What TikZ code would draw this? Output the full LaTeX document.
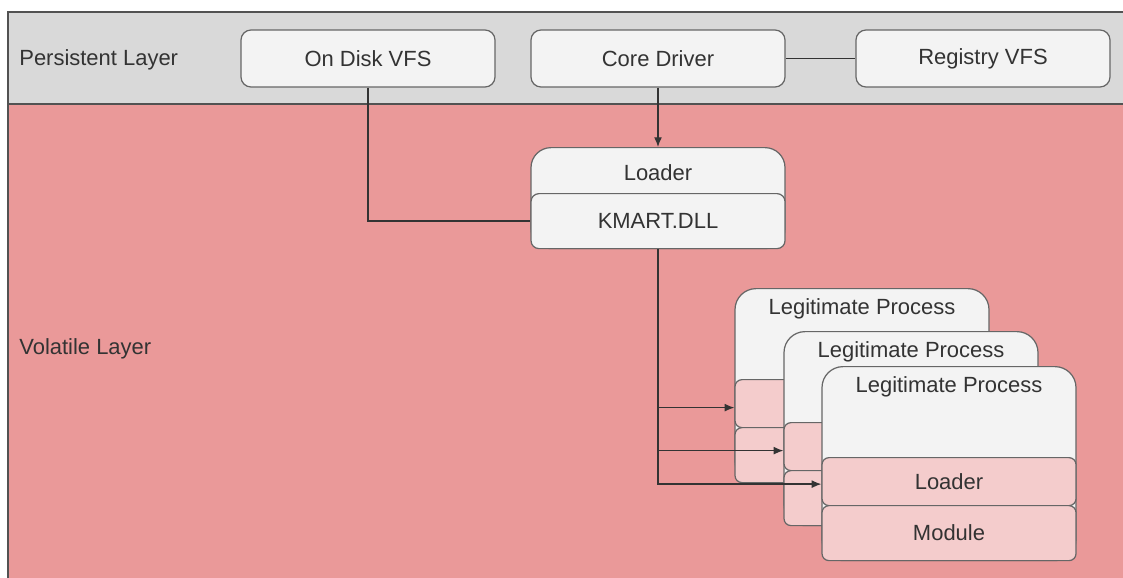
\documentclass[tikz,border=0pt]{standalone}
\usepackage{fontspec}
\setmainfont{Liberation Sans}
\usetikzlibrary{arrows.meta}
\definecolor{persist}{HTML}{D9D9D9}
\definecolor{volat}{HTML}{EA9999}
\definecolor{boxfill}{HTML}{F3F3F3}
\definecolor{modfill}{HTML}{F4CCCC}
\definecolor{edge}{HTML}{666666}
\definecolor{ink}{HTML}{333333}

\begin{document}
\begin{tikzpicture}[font=\fontsize{12.5}{15}\selectfont, text=ink,
        box/.style={rectangle, draw=edge, fill=boxfill, line width=0.7pt, rounded corners=0.2cm, minimum width=5.08cm, minimum height=1.14cm},
        proc/.style={box, rounded corners=0.42cm, anchor=north, minimum height=3.88cm},
        part/.style={box, fill=modfill, rounded corners=0.14cm, anchor=north, minimum height=0.96cm},
        heading/.style={anchor=north, yshift=-0.09cm},
        link/.style={draw=ink, line width=0.75pt},
        arrow/.style={link, -{Latex[length=5.5pt, width=4.5pt]}}]

    \useasboundingbox (0,0) rectangle (22.46,-11.54);

    % the two layers
    \fill[volat] (0.16,-2.08) rectangle (22.7,-11.8);
    \fill[persist] (0.16,-0.24) rectangle (22.7,-2.08);
    \draw[edge!80!black, line width=1.1pt] (22.7,-0.24) -- (0.16,-0.24) -- (0.16,-11.8) (0.16,-2.08) -- (22.7,-2.08);

    \node (plabel) [anchor=west, inner sep=0] at (0.38,-1.2) {Persistent Layer};
    \node (vlabel) [anchor=west, inner sep=0] at (0.38,-6.97) {Volatile Layer};

    \node (disk) [box] at (7.36,-1.17) {On Disk VFS};
    \node (core) [box] at (13.16,-1.17) {Core Driver};
    \node (registry) [box] at (19.66,-1.17) {Registry VFS};

    \node (loader) [proc, minimum height=2.02cm, rounded corners=0.4cm, label={[anchor=north, yshift=-0.22cm]north:Loader}] at (13.16,-2.94) {};
    \node (kmart) [part, fill=boxfill, rounded corners=0.16cm, minimum height=1.1cm] at (13.16,-3.86) {KMART.DLL};

    \foreach \n/\x/\y/\ld/\md in {p1/17.24/-5.76/{}/{}, p2/18.22/-6.62/{}/{}, p3/18.98/-7.32/Loader/Module} {
        \node (\n) [proc, label={[heading]north:Legitimate Process}] at (\x,\y) {};
        \node (\n-ld) [part] at ([yshift=-1.82cm]\n.north) {\ld};
        \node (\n-md) [part, minimum height=1.1cm] at ([yshift=-2.78cm]\n.north) {\md};
    }

    \draw [link] (core) -- (registry);
    \draw [arrow] (core) -- (loader);
    \draw [link] (disk) |- (kmart);
    \draw [arrow] (kmart) |- ([yshift=-0.08cm]p1-ld.west);
    \draw [arrow] (kmart) |- ([yshift=-0.08cm]p2-ld.west);
    \draw [arrow] (kmart) |- ([yshift=-0.05cm]p3-ld.west);
\end{tikzpicture}
\end{document}
